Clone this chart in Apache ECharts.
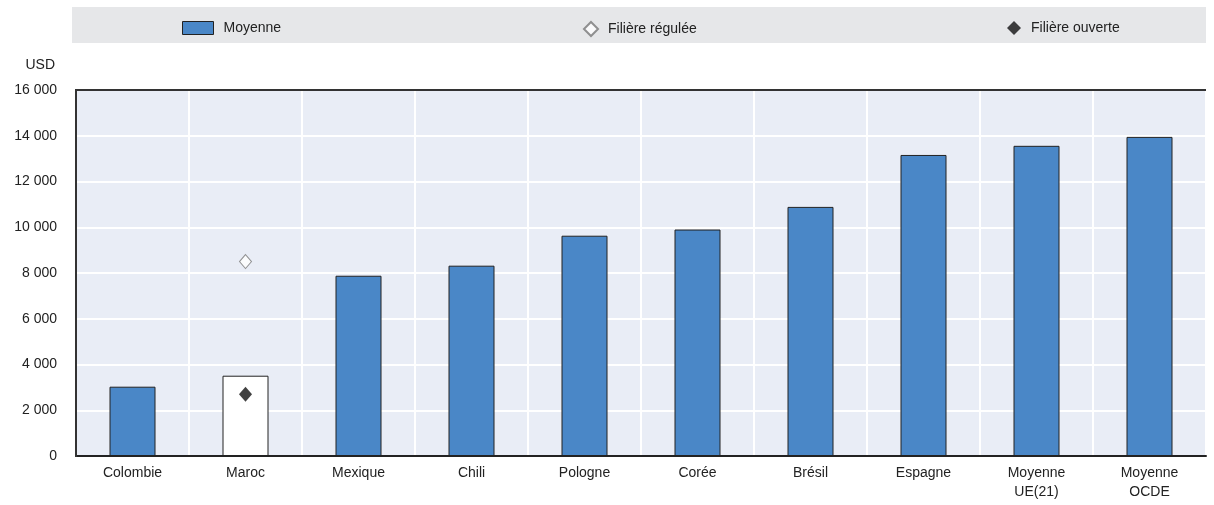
<!DOCTYPE html>
<html style="height: 100%">
<head>
    <meta charset="utf-8">
</head>
<body style="margin: 0">
    <div id="container" style="width: 1214px; height: 505px;"></div>
    <script type="text/javascript" src="https://cdn.jsdelivr.net/npm/echarts@6/dist/echarts.min.js"></script>
    <script type="text/javascript">
// données
var pays = ['Colombie', 'Maroc', 'Mexique', 'Chili', 'Pologne', 'Corée', 'Brésil', 'Espagne', 'Moyenne\nUE(21)', 'Moyenne\nOCDE'];
var moyenne = [3030, 3510, 7880, 8320, 9630, 9900, 10890, 13160, 13560, 13950];
var filiereReglee = [null, 8500, null, null, null, null, null, null, null, null];
var filiereOuverte = [null, 2700, null, null, null, null, null, null, null, null];
var yTicks = [0, 2000, 4000, 6000, 8000, 10000, 12000, 14000, 16000];

var police = "'Liberation Sans Narrow', 'Liberation Sans', Arial, sans-serif";
var bleu = '#4a87c7';
var fs = 14;

var dom = document.getElementById('container');
var myChart = echarts.init(dom);

// Maroc : barre blanche
var barData = moyenne.map(function (v, i) {
    if (pays[i] === 'Maroc') {
        return { value: v, itemStyle: { color: '#ffffff' } };
    }
    return v;
});

var legTxt = { fontFamily: police, fontSize: fs, color: '#222', padding: [0, 0, 0, 5] };

var option = {
    animation: false,
    textStyle: { fontFamily: police },
    graphic: [{
        type: 'rect',
        shape: { x: 72, y: 7, width: 1134, height: 36 },
        style: { fill: '#e6e7e9' },
        z: -1
    }, {
        // cadre gauche et haut du graphique
        type: 'polyline',
        shape: { points: [[76, 457], [76, 90], [1206, 90]] },
        style: { stroke: '#333', lineWidth: 2, fill: null },
        z: 100
    }],
    legend: [{
        data: [{ name: 'Moyenne', icon: 'rect', itemStyle: { borderWidth: 1 } }],
        left: 177, top: 16,
        itemWidth: 31, itemHeight: 13,
        textStyle: legTxt
    }, {
        data: ['Filière régulée'],
        left: 578, top: 16,
        itemWidth: 14, itemHeight: 14,
        textStyle: legTxt
    }, {
        data: ['Filière ouverte'],
        left: 1002, top: 16,
        itemWidth: 14, itemHeight: 14,
        textStyle: legTxt
    }],
    grid: {
        left: 76, right: 8, top: 90, bottom: 49,
        show: true, borderWidth: 0, backgroundColor: '#e9edf6'
    },
    xAxis: {
        type: 'category',
        data: pays,
        axisLine: { lineStyle: { color: '#222', width: 2 } },
        axisTick: { inside: true, length: 7, lineStyle: { color: '#222', width: 2 } },
        axisLabel: { fontFamily: police, fontSize: fs, color: '#222', margin: 8, lineHeight: 19 },
        splitLine: { show: true, lineStyle: { color: '#ffffff', width: 2 } }
    },
    yAxis: {
        type: 'value',
        min: 0, max: 16000, interval: 2000,
        name: 'USD',
        nameLocation: 'end',
        nameGap: 18,
        nameTextStyle: { fontFamily: police, fontSize: fs, color: '#222', align: 'right', padding: [0, 21, 0, 0] },
        axisLine: { show: false },
        axisTick: { show: false },
        axisLabel: {
            fontFamily: police, fontSize: fs, color: '#222', margin: 19,
            formatter: function (v) {
                if (yTicks.indexOf(v) < 0) return '';
                return String(v).replace(/\B(?=(\d{3})+(?!\d))/g, ' ');
            }
        },
        splitLine: { lineStyle: { color: '#ffffff', width: 2 } }
    },
    series: [{
        name: 'Moyenne',
        type: 'bar',
        data: barData,
        barWidth: 46,
        itemStyle: { color: bleu, borderColor: '#222', borderWidth: 1 },
        z: 2
    }, {
        name: 'Filière régulée',
        type: 'scatter',
        data: filiereReglee,
        symbol: 'diamond',
        symbolSize: [12, 14],
        itemStyle: { color: '#ffffff', borderColor: '#777', borderWidth: 1 },
        z: 3
    }, {
        name: 'Filière ouverte',
        type: 'scatter',
        data: filiereOuverte,
        symbol: 'diamond',
        symbolSize: [13, 15],
        itemStyle: { color: '#111', borderWidth: 0 },
        z: 3
    }]
};

myChart.setOption(option, true);
    </script>
</body>
</html>
